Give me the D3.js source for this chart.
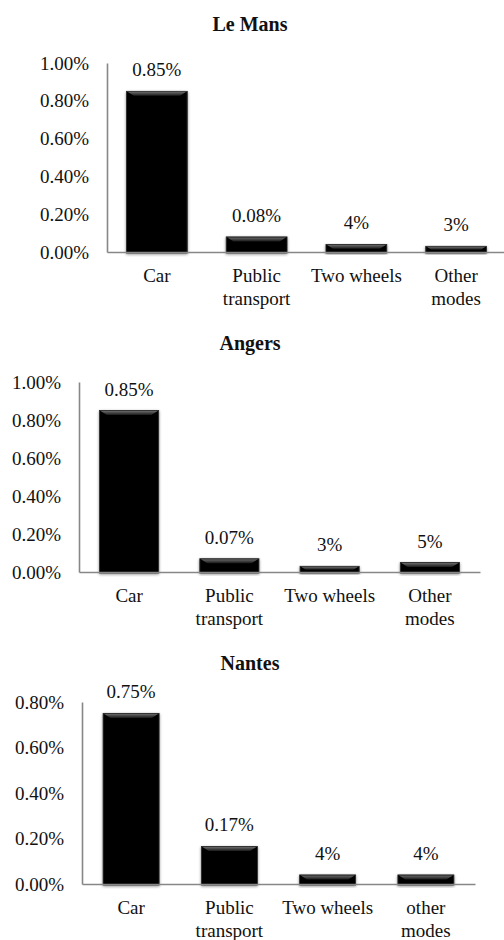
<!DOCTYPE html>
<html>
<head>
<meta charset="utf-8">
<script src="https://cdn.jsdelivr.net/npm/d3@7"></script>
</head>
<body style="margin:0;background:#fff">
<svg id="chart" width="504" height="940" style="display:block"></svg>
<script>
// ---- data ----
const titles = ["Le Mans", "Angers", "Nantes"];
const categoriesLeMans = ["Car", "Public\ntransport", "Two wheels", "Other\nmodes"];
const categoriesAngers = ["Car", "Public\ntransport", "Two wheels", "Other\nmodes"];
const categoriesNantes = ["Car", "Public\ntransport", "Two wheels", "other\nmodes"];
const valuesLeMans = [0.85, 0.08, 0.04, 0.03];
const valuesAngers = [0.85, 0.07, 0.03, 0.05];
const valuesNantes = [0.75, 0.165, 0.04, 0.04];
const labelsLeMans = ["0.85%", "0.08%", "4%", "3%"];
const labelsAngers = ["0.85%", "0.07%", "3%", "5%"];
const labelsNantes = ["0.75%", "0.17%", "4%", "4%"];
const ticksLeMans = [0, 0.2, 0.4, 0.6, 0.8, 1.0];
const ticksAngers = [0, 0.2, 0.4, 0.6, 0.8, 1.0];
const ticksNantes = [0, 0.2, 0.4, 0.6, 0.8];

const charts = [
  { title: titles[0], cats: categoriesLeMans, values: valuesLeMans, labels: labelsLeMans, ticks: ticksLeMans },
  { title: titles[1], cats: categoriesAngers, values: valuesAngers, labels: labelsAngers, ticks: ticksAngers },
  { title: titles[2], cats: categoriesNantes, values: valuesNantes, labels: labelsNantes, ticks: ticksNantes }
];

// ---- layout (positions only) ----
const layout = [
  { left: 107, right: 506, top: 63, bottom: 252, pad: 0.39 },
  { left: 79, right: 480, top: 382, bottom: 572, pad: 0.41 },
  { left: 82, right: 475, top: 702, bottom: 884, pad: 0.43 }
];

const FONT = '"Liberation Serif", monospace';
const INK = "#111";

const svg = d3.select("#chart").style("font-family", FONT);
const defs = svg.append("defs");
const f = defs.append("filter").attr("id", "shadow")
  .attr("x", "-20%").attr("y", "-20%").attr("width", "140%").attr("height", "140%");
f.append("feGaussianBlur").attr("in", "SourceAlpha").attr("stdDeviation", 1.6).attr("result", "b");
f.append("feOffset").attr("in", "b").attr("dx", 0).attr("dy", 1).attr("result", "o");
f.append("feComponentTransfer").attr("in", "o").attr("result", "s")
  .append("feFuncA").attr("type", "linear").attr("slope", 0.45);
const fm = f.append("feMerge");
fm.append("feMergeNode").attr("in", "s");
fm.append("feMergeNode").attr("in", "SourceGraphic");

const grad = defs.append("linearGradient").attr("id", "bevel")
  .attr("x1", 0).attr("y1", 0).attr("x2", 0).attr("y2", 1);
grad.append("stop").attr("offset", "0%").attr("stop-color", "#6a6a6a");
grad.append("stop").attr("offset", "100%").attr("stop-color", "#1a1a1a");

const fmt = d3.format(".2f");

charts.forEach((c, i) => {
  const L = layout[i];
  const g = svg.append("g");
  const y = d3.scaleLinear().domain([0, d3.max(c.ticks)]).range([L.bottom, L.top]);
  const x = d3.scaleBand().domain(c.cats).range([L.left, L.right])
    .paddingInner(L.pad).paddingOuter(L.pad / 2);

  // bars
  const bars = g.selectAll("g.bar").data(c.values).enter().append("g").attr("class", "bar");
  bars.append("rect")
    .attr("x", (d, j) => x(c.cats[j]))
    .attr("y", d => y(d))
    .attr("width", x.bandwidth())
    .attr("height", d => L.bottom - y(d) + 1)
    .attr("fill", "#060606")
    .attr("stroke", "#2a2a2a").attr("stroke-width", 0.8)
    .attr("filter", "url(#shadow)");
  bars.append("path")
    .attr("d", (d, j) => {
      const x0 = x(c.cats[j]), w = x.bandwidth(), t = y(d);
      const h = Math.min(4, (L.bottom - t) / 2);
      return `M${x0 + 1},${t + 0.5}L${x0 + w - 1},${t + 0.5}L${x0 + w - 1 - h * 1.6},${t + 0.5 + h}L${x0 + 1 + h * 1.6},${t + 0.5 + h}Z`;
    })
    .attr("fill", "url(#bevel)");

  // y axis
  const ya = g.append("g").attr("transform", `translate(${L.left},0)`)
    .call(d3.axisLeft(y).tickValues(c.ticks).tickFormat(d => fmt(d) + "%").tickSize(0).tickPadding(18));
  ya.attr("font-family", null).attr("font-size", null);
  ya.select(".domain").attr("stroke", "#878787").attr("stroke-width", 1.6);
  ya.selectAll("text").attr("font-size", 19).style("font-family", FONT).attr("fill", INK);

  // x axis
  const xa = g.append("g").attr("transform", `translate(0,${L.bottom})`)
    .call(d3.axisBottom(x).tickSize(0).tickSizeOuter(0).tickFormat(""));
  xa.attr("font-family", null).attr("font-size", null);
  xa.select(".domain").attr("stroke", "#878787").attr("stroke-width", 1.6);
  xa.selectAll(".tick").each(function(d) {
    const t = d3.select(this).append("text")
      .attr("text-anchor", "middle")
      .attr("font-size", 19).style("font-family", FONT).attr("fill", INK)
      .attr("y", 30);
    d.split("\n").forEach((line, k) => {
      t.append("tspan").attr("x", 0).attr("dy", k === 0 ? 0 : 23).text(line);
    });
  });

  // title
  g.append("text")
    .attr("x", 250).attr("y", L.top - 32)
    .attr("text-anchor", "middle")
    .style("font-family", FONT)
    .attr("font-size", 20).attr("font-weight", "bold").attr("fill", INK)
    .text(c.title);

  // data labels
  g.selectAll("text.dl").data(c.values).enter().append("text")
    .attr("class", "dl")
    .attr("x", (d, j) => x(c.cats[j]) + x.bandwidth() / 2)
    .attr("y", d => y(d) - 15)
    .attr("text-anchor", "middle")
    .style("font-family", FONT)
    .attr("font-size", 19).attr("fill", INK)
    .text((d, j) => c.labels[j]);
});
</script>
</body>
</html>
